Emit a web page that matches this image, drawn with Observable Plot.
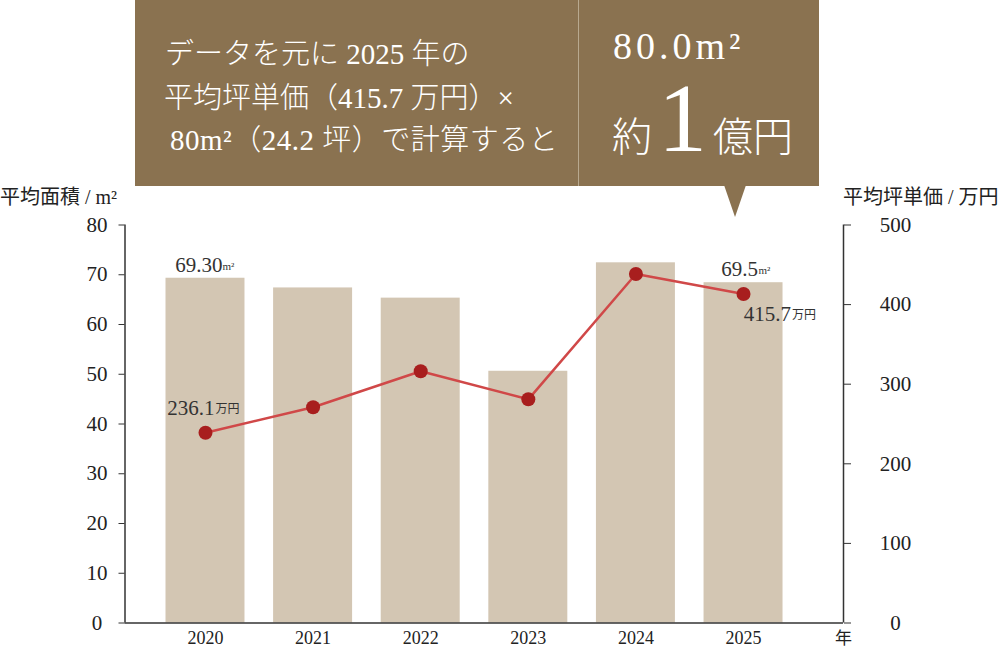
<!DOCTYPE html>
<html><head><meta charset="utf-8">
<script src="https://cdn.jsdelivr.net/npm/d3@7"></script>
<script src="https://cdn.jsdelivr.net/npm/@observablehq/plot@0.6"></script>
<style>
body{margin:0;background:#fff;}
#wrap{position:relative;width:1000px;height:650px;font-family:"Liberation Serif","Noto Sans CJK JP",serif;color:#222;}
#box{position:absolute;left:135px;top:0;width:684px;height:186px;background:#8a7250;}
#divider{position:absolute;left:578px;top:0;width:1px;height:186px;background:#b8a98f;}
#tri{position:absolute;left:724px;top:185px;width:0;height:0;border-left:11px solid transparent;border-right:11px solid transparent;border-top:32px solid #8a7250;}
.t{position:absolute;color:#fff;white-space:nowrap;font-weight:300;}
.ax{position:absolute;white-space:nowrap;font-size:20px;color:#222;}
#chart{position:absolute;left:0;top:0;}
</style></head><body>
<div id="wrap">
<div id="chart"></div>
<div id="box"></div>
<div id="divider"></div>
<div id="tri"></div>
<div class="t" style="left:165px;top:36px;font-size:29px;line-height:36px;">データを元に 2025 年の</div>
<div class="t" style="left:164px;top:80px;font-size:29px;line-height:36px;">平均坪単価（415.7 万円）×</div>
<div class="t" style="left:170px;top:122px;font-size:29px;line-height:36px;letter-spacing:0.5px;">80m²（24.2 坪）で計算すると</div>
<div class="t" style="left:613px;top:24px;font-size:38px;line-height:44px;letter-spacing:4px;">80.0m²</div>
<div class="t" style="left:612px;top:78px;line-height:80px;"><span style="font-size:40px;">約</span><span style="font-size:98px;margin:0 6px;">1</span><span style="font-size:40px;">億円</span></div>
<div class="ax" style="left:0px;top:181px;">平均面積 / m²</div>
<div class="ax" style="left:843px;top:181px;">平均坪単価 / 万円</div>
</div>
<script>
const years = [2020, 2021, 2022, 2023, 2024, 2025];
const area = [69.3, 67.35, 65.3, 50.6, 72.4, 68.4];
const price = [239, 271, 316.3, 281, 438.5, 413.4];
const areaTicks = [0, 10, 20, 30, 40, 50, 60, 70, 80];
const priceTicks = [0, 100, 200, 300, 400, 500];
const areaLabelText = ["69.30", "69.5"];
const priceLabelText = ["236.1", "415.7"];

const k = 80 / 500;
const data = years.map((y, i) => ({year: y, area: area[i], price: price[i] * k}));
const first = data[0], last = data[data.length - 1];

const chart = Plot.plot({
  width: 1000,
  height: 650,
  marginLeft: 124.5,
  marginRight: 157,
  marginTop: 224.5,
  marginBottom: 27.5,
  style: {fontFamily: '"Liberation Serif","Noto Sans CJK JP",serif', fontSize: "20px", color: "#222", background: "transparent"},
  x: {type: "linear", domain: [2019.252, 2025.929]},
  y: {domain: [0, 80]},
  marks: [
    Plot.rectY(data, {x1: d => d.year - 0.367, x2: d => d.year + 0.367, y: "area", fill: "#d3c6b3"}),
    Plot.ruleX([2019.252, 2025.929], {stroke: "#333", strokeWidth: 1.5}),
    Plot.ruleY([0], {stroke: "#333", strokeWidth: 1.5}),
    Plot.axisY({anchor: "left", ticks: areaTicks, tickSize: 6, tickPadding: 22, textAnchor: "middle", label: null, stroke: "#333", fontSize: 21}),
    Plot.axisY({anchor: "right", ticks: priceTicks.map(v => v * k), tickFormat: v => String(Math.round(v / k)), tickSize: 7, tickPadding: 45, textAnchor: "middle", label: null, stroke: "#333", fontSize: 21}),
    Plot.axisX({ticks: years, tickFormat: d => String(d), tickSize: 0, tickPadding: 8, fontSize: 18, label: null}),
    Plot.text(["年"], {frameAnchor: "bottom-right", dy: 16, fontSize: 17, textAnchor: "middle", lineAnchor: "middle"}),
    Plot.line(data, {x: "year", y: "price", stroke: "#d04848", strokeWidth: 2.5}),
    Plot.dot(data, {x: "year", y: "price", r: 7, fill: "#a81e1e"}),
    // area labels
    Plot.text([first], {x: "year", y: "area", text: () => areaLabelText[0], textAnchor: "end", lineAnchor: "bottom", dx: 17, dy: -6, fontSize: 21, fill: "#333"}),
    Plot.text([first], {x: "year", y: "area", text: () => "m²", textAnchor: "start", lineAnchor: "bottom", dx: 17, dy: -8, fontSize: 11, fill: "#333"}),
    Plot.text([last], {x: "year", y: "area", text: () => areaLabelText[1], textAnchor: "end", lineAnchor: "bottom", dx: 14.5, dy: -7, fontSize: 21, fill: "#333"}),
    Plot.text([last], {x: "year", y: "area", text: () => "m²", textAnchor: "start", lineAnchor: "bottom", dx: 15, dy: -9, fontSize: 11, fill: "#333"}),
    // price labels
    Plot.text([first], {x: "year", y: "price", text: () => priceLabelText[0], textAnchor: "end", lineAnchor: "bottom", dx: 9, dy: -18, fontSize: 21, fill: "#333"}),
    Plot.text([first], {x: "year", y: "price", text: () => "万円", textAnchor: "start", lineAnchor: "bottom", dx: 10, dy: -20, fontSize: 12, fill: "#333"}),
    Plot.text([last], {x: "year", y: "price", text: () => priceLabelText[1], textAnchor: "end", lineAnchor: "bottom", dx: 47.5, dy: 27, fontSize: 21, fill: "#333"}),
    Plot.text([last], {x: "year", y: "price", text: () => "万円", textAnchor: "start", lineAnchor: "bottom", dx: 48.5, dy: 25, fontSize: 12, fill: "#333"})
  ]
});
document.getElementById("chart").appendChild(chart);
</script>
</body></html>
